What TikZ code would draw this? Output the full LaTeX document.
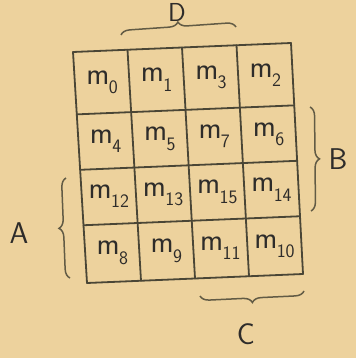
\documentclass[tikz,border=0pt]{standalone}
\usetikzlibrary{calc,decorations.pathreplacing}
\definecolor{paper}{HTML}{EDD29D}
\definecolor{ink}{HTML}{4A4636}
\definecolor{pen}{HTML}{2E2C2A}
\tikzset{
  gridline/.style={draw=ink, line width=1.8pt, line cap=round},
  bracebar/.style={draw=ink!85!paper, line width=1.5pt, decorate, decoration={brace, amplitude=9pt, aspect=0.5}},
  cell/.style={text=pen, font=\sffamily\fontsize{31}{31}\selectfont, inner sep=0pt},
  letter/.style={text=pen, font=\sffamily\fontsize{30}{30}\selectfont, inner sep=0pt}
}
\newcommand{\mm}[1]{m\kern-0.02em\raisebox{-0.3em}{\fontsize{19}{19}\selectfont #1}}
\begin{document}
\begin{tikzpicture}[x=1pt,y=-1pt]
\fill[paper] (0,0) rectangle (356,358);
\useasboundingbox (0,0) rectangle (356,358);
\coordinate (TL) at (73,52);
\coordinate (TR) at (291,43);
\coordinate (BL) at (87,283);
\coordinate (BR) at (303,274);
% grid points
\foreach \i/\u in {0/0,1/0.25,2/0.5,3/0.75,4/1}{
  \foreach \j/\v in {0/0,1/0.27,2/0.51,3/0.75,4/1}{
    \coordinate (p-\i-\j) at ($ ($(TL)!\u!(TR)$) ! \v ! ($(BL)!\u!(BR)$) $);
  }
}
\foreach \k in {0,...,4}{
  \draw[gridline] (p-0-\k) -- (p-4-\k);
  \draw[gridline] (p-\k-0) -- (p-\k-4);
}
% cell labels
\foreach \row/\v/\labs in {0/0.135/{0,1,3,2},1/0.39/{4,5,7,6},2/0.63/{12,13,15,14},3/0.875/{8,9,11,10}}{
  \foreach \n [count=\c from 0] in \labs {
    \pgfmathsetmacro{\uu}{0.125+0.25*\c}
    \node[cell] (m\n) at ($ ($(TL)!\uu!(TR)$) ! \v ! ($(BL)!\uu!(BR)$) $) {\mm{\n}};
  }
}
% braces
\coordinate (d1) at (121,35);
\coordinate (d2) at (236,27);
\draw[bracebar] (d1) -- (d2);
\node[letter, font=\sffamily\fontsize{26}{26}\selectfont] (D) at (177,12) {D};
\coordinate (b1) at (310,107);
\coordinate (b2) at (311,211);
\draw[bracebar] (b1) -- (b2);
\node[letter] (B) at (338,159) {B};
\coordinate (a1) at (70,278);
\coordinate (a2) at (66,178);
\draw[bracebar] (a1) -- (a2);
\node[letter] (A) at (19,233) {A};
\coordinate (c1) at (304,291);
\coordinate (c2) at (200,296);
\draw[bracebar] (c1) -- (c2);
\node[letter] (C) at (246,334) {C};
\end{tikzpicture}
\end{document}
